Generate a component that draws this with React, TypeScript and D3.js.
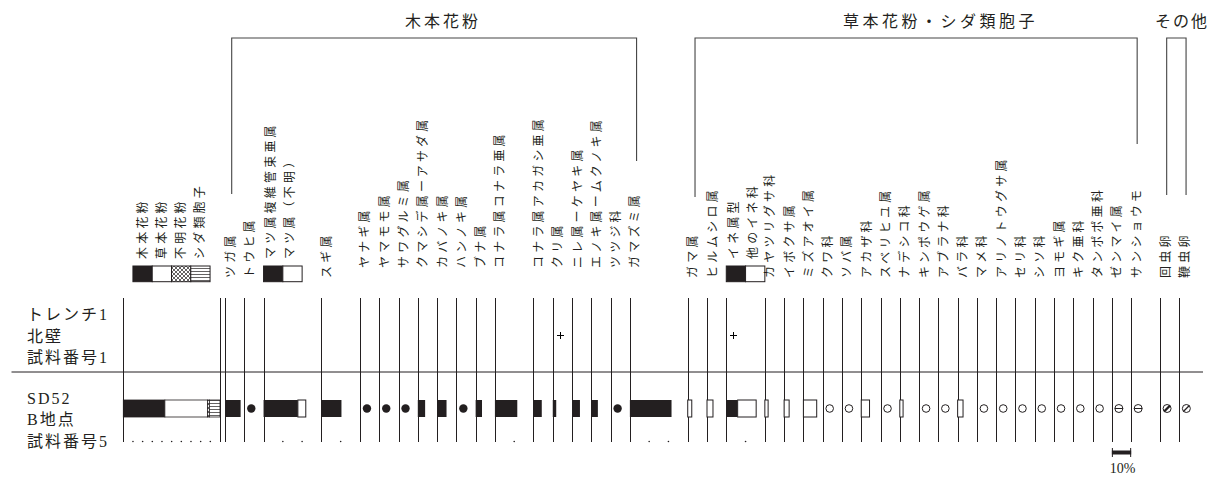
import React from "react";
import * as d3 from "d3";

// ---------------- data ----------------
const sampleNames = [
  ["トレンチ1", "北壁", "試料番号1"],
  ["SD52", "B地点", "試料番号5"],
];
const summaryCategories = ["木本花粉", "草本花粉", "不明花粉", "シダ類胞子"];
const summaryValues = [43, 44, 2, 11];

const woodyTaxa = [
  "ツガ属", "トウヒ属", "マツ属複維管束亜属", "マツ属（不明）", "スギ属", "ヤナギ属",
  "ヤマモモ属", "サワグルミ属", "クマシデ属ーアサダ属", "カバノキ属", "ハンノキ属", "ブナ属",
  "コナラ属コナラ亜属", "コナラ属アカガシ亜属", "クリ属", "ニレ属ーケヤキ属",
  "エノキ属ームクノキ属", "ツツジ科", "ガマズミ属",
];
const woodyValues = [8.1, 0.5, 17.8, 4.1, 10.4, 0.5, 0.5, 0.5, 3.8, 4.9, 0.5, 3.3, 11.6, 4.3, 1.8, 4.1, 3.4, 0.5, 21.6];

const herbTaxa = [
  "ガマ属", "ヒルムシロ属", "イネ属型", "他のイネ科", "カヤツリグサ科", "イボクサ属",
  "ミズアオイ属", "クワ科", "ソバ属", "アカザ科", "スベリヒユ属", "ナデシコ科",
  "キンポウゲ属", "アブラナ科", "バラ科", "マメ科", "アリノトウグサ属", "セリ科",
  "シソ科", "ヨモギ属", "キク亜科", "タンポポ亜科",
];
const herbValues = [2.1, 3.1, 5.9, 9.6, 1.7, 2.6, 6.9, 0.5, 0.5, 4.3, 0.5, 1.7, 0.5, 0.5, 2.8, 0.5, 0.5, 0.5, 0.5, 0.5, 0.5, 0.5];

const fernTaxa = ["ゼンマイ属", "サンショウモ"];
const fernValues = [0.5, 0.5];

const otherTaxa = ["回虫卵", "鞭虫卵"];
const otherValues = [0.5, 0.5];

const stackedPairs = [
  ["マツ属複維管束亜属", "マツ属（不明）"],
  ["イネ属型", "他のイネ科"],
];
const sample1Present = ["クリ属", "イネ属型"];
const groupTitles = ["木本花粉", "草本花粉・シダ類胞子", "その他"];
const scaleLabel = "10%";

// ---------------- layout ----------------
const SUM_X = 123.3;
const ROW_TOP = 298;
const ROW_MID = 372;
const ROW_BOT = 442;
const BAR_Y = 400;
const BAR_H = 17;
const LABEL_BOTTOM = 278;
const LABEL_BOTTOM_RAISED = 268;
const RAISED_FROM = 5; // woody columns from this taxon index sit a little higher
const LEG_LABEL_BOTTOM = 259;
const LEG_Y = 266;
const LEG_H = 15.7;
const INK = "#231f20";
const CJK = "'Liberation Serif', 'Noto Sans CJK JP', serif";

type Col = { names: string[]; vals: number[]; group: string; x: number; w: number; wPct: number; idx: number };

export default function App() {
  const pct = d3.scaleLinear().domain([0, 10]).range([0, 19.28]);
  const sumScale = d3.scaleLinear().domain([0, 100]).range([0, 96.7]);

  const cols: Col[] = [];
  let cx = SUM_X + sumScale(100) + 5;
  const addGroup = (names: string[], vals: number[], group: string) => {
    for (let i = 0; i < names.length; i++) {
      const idx = i;
      const nm = [names[i]];
      const vs = [vals[i]];
      const pair = stackedPairs.find((p) => p[0] === names[i]);
      if (pair) {
        nm.push(names[i + 1]);
        vs.push(vals[i + 1]);
        i++;
      }
      const total = d3.sum(vs);
      const wPct = Math.max(10, Math.ceil(total / 10) * 10);
      cols.push({ names: nm, vals: vs, group, x: cx, w: pct(wPct), wPct, idx });
      cx += pct(wPct);
    }
  };
  addGroup(woodyTaxa, woodyValues, "woody");
  addGroup(herbTaxa, herbValues, "herb");
  addGroup(fernTaxa, fernValues, "fern");
  cx += pct(5);
  addGroup(otherTaxa, otherValues, "other");

  const woodyCols = cols.filter((c) => c.group === "woody");
  const herbCols = cols.filter((c) => c.group === "herb" || c.group === "fern");
  const otherCols = cols.filter((c) => c.group === "other");

  const sumEnd = SUM_X + sumScale(100);
  const lineXs = [SUM_X, sumEnd, ...cols.map((c) => c.x)];

  const fills = [INK, "#fff", "url(#xhatch)", "url(#hlines)"];
  const sumStarts = d3.cumsum([0, ...summaryValues]);
  const legW = pct(10);

  const midY = BAR_Y + BAR_H / 2;

  const rotLabel = (key: string, x: number, yBottom: number, text: string) => (
    <text
      key={key}
      transform={`translate(${x},${yBottom}) rotate(-90)`}
      dominantBaseline="central"
      fontFamily={CJK}
      fontSize={12}
      letterSpacing={3.2}
      fill={INK}
    >
      {text}
    </text>
  );

  const ticks = (x0: number, n: number, step: (k: number) => number, key: string) =>
    d3.range(1, n).map((k) => (
      <circle key={key + k} cx={x0 + step(k)} cy={ROW_BOT - 0.5} r={0.8} fill={INK} />
    ));

  return (
    <svg
      width={1216}
      height={478}
      style={{ position: "absolute", left: 0, top: 0, background: "#fff" }}
    >
      <defs>
        <pattern id="xhatch" width={4} height={4} patternUnits="userSpaceOnUse">
          <rect width={4} height={4} fill="#fff" />
          <path d="M0,0L4,4M4,0L0,4" stroke={INK} strokeWidth={0.7} />
        </pattern>
        <pattern id="hlines" width={4} height={3} patternUnits="userSpaceOnUse">
          <rect width={4} height={3} fill="#fff" />
          <line x1={0} x2={4} y1={1.5} y2={1.5} stroke={INK} strokeWidth={0.7} />
        </pattern>
      </defs>

      {/* group titles and brackets */}
      {(() => {
        const wl = woodyCols[0].x + 6.7;
        const wr = woodyCols[woodyCols.length - 1].x + 6.7;
        const hl = herbCols[0].x + 7.3;
        const hr = herbCols[herbCols.length - 1].x + 6;
        const ol = otherCols[0].x + 6.6;
        const or = otherCols[otherCols.length - 1].x + 6.7;
        const st = { stroke: "#444", strokeWidth: 1.1, fill: "none" };
        return (
          <g>
            <path d={`M${wl},194V38H${wr}V161`} {...st} />
            <path d={`M${hl},197V38H${hr}V144`} {...st} />
            <path d={`M${ol},195V38H${or}V195`} {...st} />
            <text x={405} y={27} fontFamily={CJK} fontSize={16} letterSpacing={3} fill={INK}>
              {groupTitles[0]}
            </text>
            <text x={843} y={27} fontFamily={CJK} fontSize={16} letterSpacing={3.5} fill={INK}>
              {groupTitles[1]}
            </text>
            <text x={1155} y={27} fontFamily={CJK} fontSize={16} letterSpacing={2} fill={INK}>
              {groupTitles[2]}
            </text>
          </g>
        );
      })()}

      {/* summary legend */}
      {summaryCategories.map((c, i) => {
        const lx = SUM_X + pct(5) + legW * i;
        return (
          <g key={c}>
            <rect x={lx} y={LEG_Y} width={legW} height={LEG_H} fill={fills[i]} stroke={INK} strokeWidth={1} />
            {rotLabel("sl" + i, lx + legW / 2, LEG_LABEL_BOTTOM, c)}
          </g>
        );
      })}

      {/* column labels */}
      {cols.map((c) =>
        c.names.length > 1 ? (
          <g key={"lab" + c.names[0]}>
            {c.names.map((n, j) => (
              <g key={n}>
                <rect
                  x={c.x + legW * j}
                  y={LEG_Y}
                  width={legW}
                  height={LEG_H}
                  fill={j === 0 ? INK : "#fff"}
                  stroke={INK}
                  strokeWidth={1}
                />
                {rotLabel("l" + n, c.x + legW * j + legW / 2 - 2, LEG_LABEL_BOTTOM, n)}
              </g>
            ))}
          </g>
        ) : (
          rotLabel(
            "l" + c.names[0],
            c.x + 5.5,
            c.group === "woody" && c.idx >= RAISED_FROM ? LABEL_BOTTOM_RAISED : LABEL_BOTTOM,
            c.names[0]
          )
        )
      )}

      {/* sample labels */}
      {sampleNames.map((lines, si) =>
        lines.map((t, li) => (
          <text
            key={"s" + si + li}
            x={27}
            y={(si === 0 ? 320 : 403.5) + li * 21.5}
            fontFamily={CJK}
            fontSize={16}
            letterSpacing={2}
            fill={INK}
          >
            {t}
          </text>
        ))
      )}

      {/* grid lines */}
      <line x1={11.5} x2={1203} y1={ROW_MID} y2={ROW_MID} stroke={INK} strokeWidth={1} />
      {lineXs.map((x, i) => (
        <line
          key={"v" + i}
          x1={Math.round(x) + 0.5}
          x2={Math.round(x) + 0.5}
          y1={ROW_TOP}
          y2={ROW_BOT}
          stroke={INK}
          strokeWidth={1}
        />
      ))}

      {/* summary bar (sample 2) */}
      {summaryValues.map((v, i) => (
        <rect
          key={"sb" + i}
          x={SUM_X + sumScale(sumStarts[i])}
          y={BAR_Y}
          width={sumScale(v)}
          height={BAR_H}
          fill={fills[i]}
          stroke={INK}
          strokeWidth={0.8}
        />
      ))}
      {ticks(SUM_X, 10, (k) => sumScale(k * 10), "st")}

      {/* taxa marks */}
      {cols.map((c) => {
        const els: React.ReactNode[] = [];
        const total = d3.sum(c.vals);
        const mx = c.x + 7;
        if (c.group === "fern") {
          els.push(
            <g key="m">
              <circle cx={mx} cy={midY} r={4} fill="#fff" stroke={INK} strokeWidth={1} />
              <line x1={mx - 4} x2={mx + 4} y1={midY} y2={midY} stroke={INK} strokeWidth={1} />
            </g>
          );
        } else if (c.group === "other") {
          const bold = c.names[0] === otherTaxa[0];
          els.push(
            <g key="m">
              <circle cx={mx} cy={midY} r={4} fill="#fff" stroke={INK} strokeWidth={1} />
              <line
                x1={mx - 3}
                y1={midY + 3}
                x2={mx + 3}
                y2={midY - 3}
                stroke={INK}
                strokeWidth={bold ? 2.4 : 1.2}
              />
            </g>
          );
        } else if (total < 1) {
          els.push(
            c.group === "woody" ? (
              <circle key="m" cx={mx} cy={midY} r={4.2} fill={INK} />
            ) : (
              <circle key="m" cx={mx} cy={midY} r={3.8} fill="#fff" stroke={INK} strokeWidth={1} />
            )
          );
        } else {
          let acc = 0;
          c.vals.forEach((v, j) => {
            const black = c.names.length > 1 ? j === 0 : c.group === "woody";
            els.push(
              <rect
                key={"r" + j}
                x={c.x + pct(acc)}
                y={BAR_Y}
                width={pct(v)}
                height={BAR_H}
                fill={black ? INK : "#fff"}
                stroke={INK}
                strokeWidth={black ? 0 : 1}
              />
            );
            acc += v;
          });
        }
        if (sample1Present.includes(c.names[0])) {
          const px = Math.round(c.x + 7) + 0.5;
          els.push(
            <path
              key="p"
              d={`M${px - 3.5},335.5H${px + 3.5}M${px},332V339`}
              stroke="#000"
              strokeWidth={1}
              fill="none"
            />
          );
        }
        return (
          <g key={"c" + c.names[0]}>
            {els}
            {ticks(c.x, c.wPct / 10, (k) => pct(k * 10), "t" + c.names[0])}
          </g>
        );
      })}

      {/* 10% scale bar under ゼンマイ属 */}
      {(() => {
        const sc = cols.find((c) => c.names[0] === fernTaxa[0])!;
        const x0 = sc.x;
        const x1 = sc.x + pct(10);
        return (
          <g>
            <rect x={x0} y={450.5} width={x1 - x0} height={4} fill={INK} />
            <line x1={x0 + 0.5} x2={x0 + 0.5} y1={448} y2={457} stroke={INK} strokeWidth={1} />
            <line x1={x1 - 0.5} x2={x1 - 0.5} y1={448} y2={457} stroke={INK} strokeWidth={1} />
            <text
              x={(x0 + x1) / 2 + 1}
              y={473}
              textAnchor="middle"
              fontFamily="'Liberation Serif', serif"
              fontSize={14}
              fill={INK}
            >
              {scaleLabel}
            </text>
          </g>
        );
      })()}
    </svg>
  );
}
